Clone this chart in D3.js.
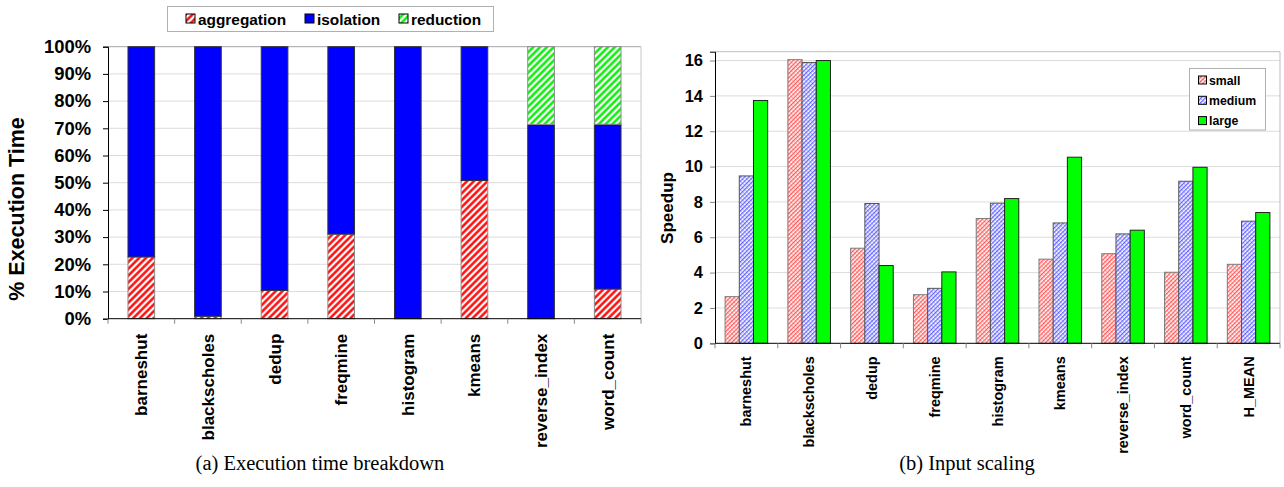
<!DOCTYPE html>
<html>
<head>
<meta charset="utf-8">
<script src="https://cdn.jsdelivr.net/npm/d3@7"></script>
<style>
  html, body { margin: 0; padding: 0; background: #fff; }
  svg { display: block; }
  text { font-family: "Liberation Sans", Arial, sans-serif; }
  text.caption { font-family: "Liberation Serif", "Times New Roman", serif; }
</style>
</head>
<body>
<svg id="fig" width="1284" height="487"></svg>
<script>
// ---- (a) execution time breakdown (percent of total) ----
const breakdownCategories = ["barneshut", "blackscholes", "dedup", "freqmine", "histogram", "kmeans", "reverse_index", "word_count"];
const aggregation = [22.7, 0.9, 10.4, 31.1, 0, 50.8, 0, 10.9];
const isolation   = [77.3, 99.1, 89.6, 68.9, 100, 49.2, 71.4, 60.6];
const reduction   = [0, 0, 0, 0, 0, 0, 28.6, 28.5];
const breakdownTicks = [0, 10, 20, 30, 40, 50, 60, 70, 80, 90, 100];

// ---- (b) input scaling (speedup) ----
const scalingCategories = ["barneshut", "blackscholes", "dedup", "freqmine", "histogram", "kmeans", "reverse_index", "word_count", "H_MEAN"];
const small  = [2.64, 16.05, 5.38, 2.75, 7.06, 4.76, 5.07, 4.02, 4.47];
const medium = [9.47, 15.89, 7.91, 3.11, 7.93, 6.81, 6.19, 9.17, 6.91];
const large  = [13.74, 16.0, 4.40, 4.04, 8.19, 10.53, 6.40, 9.96, 7.40];
const speedupTicks = [0, 2, 4, 6, 8, 10, 12, 14, 16];

const svg = d3.select("#fig");
const defs = svg.append("defs");

// stripe patterns
function stripes(id, color, period, width, angle) {
  const p = defs.append("pattern")
    .attr("id", id)
    .attr("patternUnits", "userSpaceOnUse")
    .attr("width", period).attr("height", period)
    .attr("patternTransform", `rotate(${angle})`);
  p.append("rect").attr("width", period).attr("height", period).attr("fill", "#fff");
  p.append("line").attr("x1", period / 2).attr("x2", period / 2)
    .attr("y1", 0).attr("y2", period)
    .attr("stroke", color).attr("stroke-width", width);
}
stripes("hatchRed", "#ff0000", 4.8, 2.4, 45);
stripes("hatchGreen", "#00ee00", 4.8, 2.4, 45);

function fine(id, color) {
  const p = defs.append("pattern")
    .attr("id", id)
    .attr("patternUnits", "userSpaceOnUse")
    .attr("width", 3).attr("height", 3)
    .attr("patternTransform", "rotate(45)");
  p.append("rect").attr("width", 3).attr("height", 3).attr("fill", "#fff");
  p.append("rect").attr("x", 0).attr("y", 0).attr("width", 1.3).attr("height", 3).attr("fill", color).attr("opacity", 0.75);
  p.append("rect").attr("x", 0).attr("y", 0).attr("width", 3).attr("height", 0.8).attr("fill", color).attr("opacity", 0.35);
}
fine("fineRed", "#ff2a2a");
fine("fineBlue", "#3a3aff");

// ================= chart (a) =================
{
  const left = 108, right = 641, top = 46.7, bottom = 318.7;
  const x = d3.scaleBand().domain(breakdownCategories).range([left, right])
    .paddingInner(0.6).paddingOuter(0.3);
  const y = d3.scaleLinear().domain([0, 100]).range([bottom, top]);
  const g = svg.append("g");

  // gridlines
  g.selectAll("line.grid").data(breakdownTicks.filter(t => t > 0)).join("line")
    .attr("x1", left).attr("x2", right)
    .attr("y1", d => y(d)).attr("y2", d => y(d))
    .attr("stroke", d => d === 100 ? "#a6a6a6" : "#dcdcdc").attr("stroke-width", 1);
  g.append("line").attr("x1", right).attr("x2", right).attr("y1", top).attr("y2", bottom)
    .attr("stroke", "#c8c8c8");

  const series = [
    { key: "aggregation", values: aggregation, fill: "url(#hatchRed)", stroke: "#8a8a8a" },
    { key: "isolation", values: isolation, fill: "#0000ff", stroke: "#333" },
    { key: "reduction", values: reduction, fill: "url(#hatchGreen)", stroke: "#8a8a8a" }
  ];
  const rows = breakdownCategories.map((c, i) => {
    let acc = 0;
    return series.map(s => { const y0 = acc; acc += s.values[i]; return { cat: c, y0, y1: acc, s }; });
  }).flat().filter(d => d.y1 - d.y0 > 0);

  g.selectAll("rect.seg").data(rows).join("rect")
    .attr("x", d => x(d.cat)).attr("width", x.bandwidth())
    .attr("y", d => y(d.y1)).attr("height", d => y(d.y0) - y(d.y1))
    .attr("fill", d => d.s.fill).attr("stroke", d => d.s.stroke).attr("stroke-width", 1);

  // axes
  const yAxis = d3.axisLeft(y).tickValues(breakdownTicks).tickSize(5).tickPadding(12)
    .tickFormat(d => d + "%");
  const ya = g.append("g").attr("transform", `translate(${left},0)`).call(yAxis);
  ya.select(".domain").attr("stroke", "#000");
  ya.selectAll(".tick line").attr("stroke", "#000");
  ya.selectAll("text").attr("font-size", 18.4).attr("font-weight", "bold").attr("fill", "#000");

  // x axis with boundary ticks
  g.append("line").attr("x1", left).attr("x2", right).attr("y1", bottom).attr("y2", bottom).attr("stroke", "#000");
  const bounds = d3.range(breakdownCategories.length + 1).map(i => left + i * x.step());
  g.selectAll("line.xt").data(bounds).join("line")
    .attr("x1", d => d).attr("x2", d => d).attr("y1", bottom).attr("y2", bottom + 5)
    .attr("stroke", "#888");
  g.selectAll("text.xl").data(breakdownCategories).join("text")
    .attr("transform", d => `translate(${x(d) + x.bandwidth() / 2 + 6},${bottom + 15}) rotate(-90)`)
    .attr("text-anchor", "end")
    .attr("font-size", 17).attr("font-weight", "bold").text(d => d);

  // y title
  g.append("text").attr("transform", `translate(24,209) rotate(-90)`)
    .attr("text-anchor", "middle").attr("font-size", 21.5).attr("font-weight", "bold")
    .text("% Execution Time");

  // legend
  g.append("rect").attr("x", 167.5).attr("y", 6.5).attr("width", 326).attr("height", 25)
    .attr("fill", "#fff").attr("stroke", "#b0b0b0");
  const lx = [186, 305, 399];
  series.forEach((s, i) => {
    g.append("rect").attr("x", lx[i]).attr("y", 14).attr("width", 9).attr("height", 9)
      .attr("fill", s.fill).attr("stroke", "#000").attr("stroke-width", 1);
    g.append("text").attr("x", lx[i] + 12).attr("y", 24.5).attr("font-size", 15.4)
      .attr("font-weight", "bold").text(s.key);
  });

  // caption
  svg.append("text").attr("class", "caption").attr("x", 320).attr("y", 470).attr("text-anchor", "middle")
    .attr("font-size", 20.5)
    .text("(a) Execution time breakdown");
}

// ================= chart (b) =================
{
  const left = 715, right = 1280, top = 51.7, bottom = 343.3;
  const x = d3.scaleBand().domain(scalingCategories).range([left, right])
    .paddingInner(0.322).paddingOuter(0.161);
  const keys = ["small", "medium", "large"];
  const sx = d3.scaleBand().domain(keys).range([0, x.bandwidth()]);
  const y = d3.scaleLinear().domain([0, 16.5]).range([bottom, top]);
  const g = svg.append("g");

  g.selectAll("line.grid").data(speedupTicks.filter(t => t > 0)).join("line")
    .attr("x1", left).attr("x2", right)
    .attr("y1", d => y(d)).attr("y2", d => y(d))
    .attr("stroke", "#dcdcdc");
  g.append("line").attr("x1", left).attr("x2", right).attr("y1", top).attr("y2", top).attr("stroke", "#bdbdbd");
  g.append("line").attr("x1", right).attr("x2", right).attr("y1", top).attr("y2", bottom).attr("stroke", "#bdbdbd");

  const styles = {
    small: { fill: "url(#fineRed)", stroke: "#7a7a7a", values: small },
    medium: { fill: "url(#fineBlue)", stroke: "#555", values: medium },
    large: { fill: "#00ff00", stroke: "#222", values: large }
  };
  const bars = scalingCategories.flatMap((c, i) => keys.map(k => ({ cat: c, key: k, v: styles[k].values[i] })));
  g.selectAll("rect.bar").data(bars).join("rect")
    .attr("x", d => x(d.cat) + sx(d.key)).attr("width", sx.bandwidth())
    .attr("y", d => y(d.v)).attr("height", d => y(0) - y(d.v))
    .attr("fill", d => styles[d.key].fill).attr("stroke", d => styles[d.key].stroke).attr("stroke-width", 1);

  const yAxis = d3.axisLeft(y).tickValues(speedupTicks).tickSize(5).tickPadding(7);
  const ya = g.append("g").attr("transform", `translate(${left},0)`).call(yAxis);
  ya.select(".domain").attr("stroke", "#000");
  ya.selectAll(".tick line").attr("stroke", "#888");
  ya.selectAll("text").attr("font-size", 16.5).attr("font-weight", "bold").attr("fill", "#000");

  g.append("line").attr("x1", left).attr("x2", right).attr("y1", bottom).attr("y2", bottom).attr("stroke", "#000");
  const bounds = d3.range(scalingCategories.length + 1).map(i => left + i * x.step());
  g.selectAll("line.xt").data(bounds).join("line")
    .attr("x1", d => d).attr("x2", d => d).attr("y1", bottom).attr("y2", bottom + 5)
    .attr("stroke", "#888");
  g.selectAll("text.xl").data(scalingCategories).join("text")
    .attr("transform", d => `translate(${x(d) + x.bandwidth() / 2 + 5},${bottom + 13}) rotate(-90)`)
    .attr("text-anchor", "end")
    .attr("font-size", 14.5).attr("font-weight", "bold").text(d => d);

  g.append("text").attr("transform", `translate(673,208) rotate(-90)`)
    .attr("text-anchor", "middle").attr("font-size", 17).attr("font-weight", "bold")
    .text("Speedup");

  // legend
  g.append("rect").attr("x", 1189.5).attr("y", 68.5).attr("width", 76).attr("height", 61.5)
    .attr("fill", "#fff").attr("stroke", "#b0b0b0");
  keys.forEach((k, i) => {
    const cy = 80 + i * 20.3;
    g.append("rect").attr("x", 1198.5).attr("y", cy - 4).attr("width", 8).attr("height", 8)
      .attr("fill", styles[k].fill).attr("stroke", "#000");
    g.append("text").attr("x", 1209).attr("y", cy + 4.5).attr("font-size", 12.3)
      .attr("font-weight", "bold").text(k);
  });

  svg.append("text").attr("class", "caption").attr("x", 967).attr("y", 470).attr("text-anchor", "middle")
    .attr("font-size", 20.5)
    .text("(b) Input scaling");
}
</script>
</body>
</html>
